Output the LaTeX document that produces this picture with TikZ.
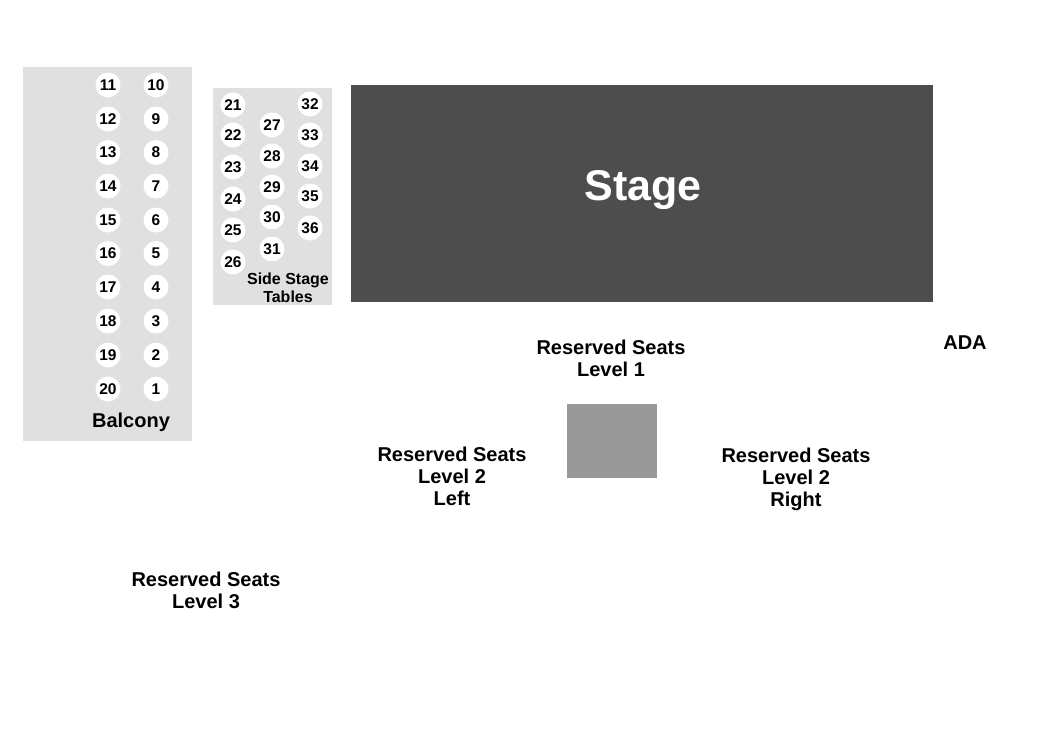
\documentclass[tikz,border=0pt]{standalone}
\usepackage{fontspec}
\setmainfont{Liberation Sans}
\definecolor{panelgray}{HTML}{E0E0E0}
\definecolor{stagegray}{HTML}{4D4D4D}
\definecolor{boxgray}{HTML}{999999}
\tikzset{
  seat/.style={circle,fill=white,minimum size=25pt,inner sep=0pt,font=\fontsize{15.5}{15.5}\selectfont\bfseries},
  lbl/.style={align=center,font=\fontsize{20}{22}\selectfont\bfseries,inner sep=0pt},
  sidelbl/.style={align=center,font=\fontsize{16}{18}\selectfont\bfseries,inner sep=0pt}
}
\begin{document}
\begin{tikzpicture}[x=1pt,y=-1pt]
\useasboundingbox (0,0) rectangle (1050,750);
\fill[white] (0,0) rectangle (1050,750);
% balcony panel
\fill[panelgray] (23,67) rectangle (192,441);
% side stage panel
\fill[panelgray] (213,88) rectangle (332,305);
% stage
\fill[stagegray] (351,85) rectangle (933,302);
\node[text=white,font=\fontsize{43}{43}\selectfont\bfseries,inner sep=0pt] (stage) at (643,190) {Stage};
% balcony seats
\foreach \n/\y in {11/85,12/119,13/152.5,14/186,15/220,16/253.5,17/287,18/321,19/355,20/389}
  \node[seat] (s\n) at (108,\y) {\n};
\foreach \n/\y in {10/85,9/119,8/152.5,7/186,6/220,5/253.5,4/287,3/321,2/355,1/389}
  \node[seat] (s\n) at (156,\y) {\n};
\node[lbl] (balcony) at (131,422) {Balcony};
% side stage tables
\foreach \n/\y in {21/105,22/135,23/167,24/199,25/230,26/262}
  \node[seat] (s\n) at (233,\y) {\n};
\foreach \n/\y in {27/125,28/156,29/187,30/217,31/249}
  \node[seat] (s\n) at (272,\y) {\n};
\foreach \n/\y in {32/104,33/135,34/166,35/196,36/228}
  \node[seat] (s\n) at (310,\y) {\n};
\node[sidelbl] (side) at (288,287.5) {Side Stage\\Tables};
% labels
\node[lbl] (lvl1) at (611,358) {Reserved Seats\\Level 1};
\node[lbl] (ada) at (965,343) {ADA};
\fill[boxgray] (567,404) rectangle (657,478);
\node[lbl] (lvl2l) at (452,476) {Reserved Seats\\Level 2\\Left};
\node[lbl] (lvl2r) at (796,479) {Reserved Seats\\Level 2\\Right};
\node[lbl] (lvl3) at (206,590) {Reserved Seats\\Level 3};
\end{tikzpicture}
\end{document}
